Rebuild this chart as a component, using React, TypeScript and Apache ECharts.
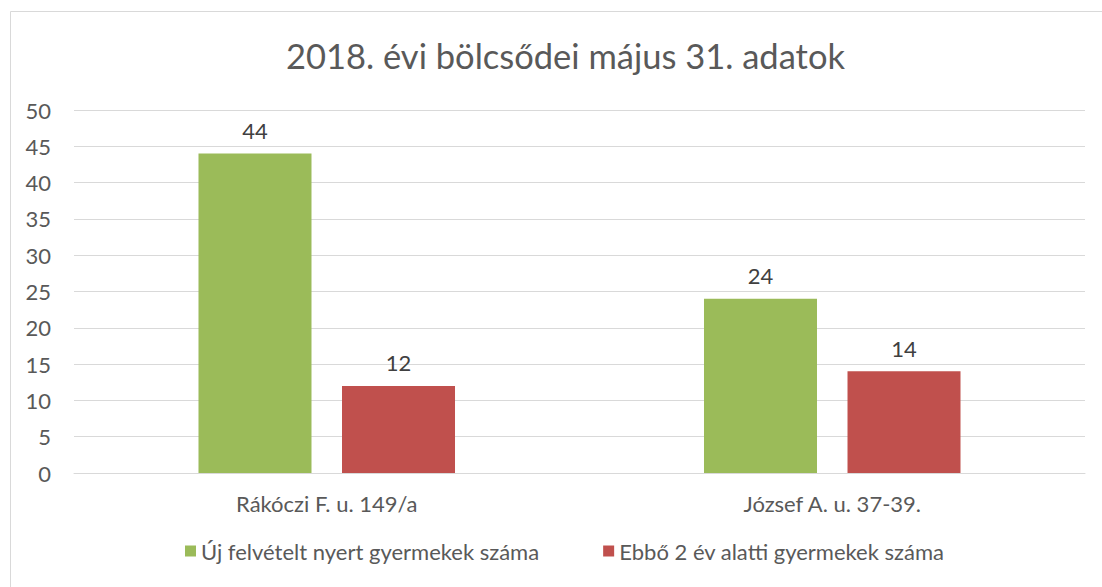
import React, { useEffect, useRef } from "react";
import * as echarts from "echarts";

const categories = ["Rákóczi F. u. 149/a", "József A. u. 37-39."];
const seriesNames = ["Új felvételt nyert gyermekek száma", "Ebbő 2 év alatti gyermekek száma"];
const newAdmitted = [44, 24];
const underTwo = [12, 14];
const titleText = "2018. évi bölcsődei május 31. adatok";

const FONT = "Lato, 'Noto Sans', sans-serif";

export default function App() {
  const ref = useRef<HTMLDivElement>(null);
  useEffect(() => {
    if (!ref.current) return;
    const chart = echarts.init(ref.current, null, { renderer: "svg" });
    chart.setOption({
      animation: false,
      backgroundColor: "#ffffff",
      textStyle: { fontFamily: FONT },
      graphic: [
        {
          type: "rect",
          shape: { x: 10.5, y: 11.5, width: 1100, height: 600 },
          style: { fill: "none", stroke: "#d9d9d9", lineWidth: 1 },
          silent: true,
        },
      ],
      title: {
        text: titleText,
        left: 281,
        top: 33,
        textStyle: { fontFamily: FONT, fontSize: 34.5, fontWeight: "normal", color: "#595959" },
      },
      legend: {
        bottom: 20,
        left: 180,
        itemWidth: 11,
        itemHeight: 11,
        itemGap: 64,
        icon: "rect",
        textStyle: { fontFamily: FONT, fontSize: 22, color: "#595959" },
      },
      grid: { left: 74, right: 17, top: 110, bottom: 114, containLabel: false },
      xAxis: {
        type: "category",
        data: categories,
        axisLine: { show: true, lineStyle: { color: "#d9d9d9" } },
        axisTick: { show: false },
        axisLabel: { fontFamily: FONT, fontSize: 22, color: "#595959", margin: 19 },
      },
      yAxis: {
        type: "value",
        min: 0,
        max: 50,
        interval: 5,
        axisLine: { show: false },
        axisTick: { show: false },
        splitLine: { lineStyle: { color: "#d9d9d9", width: 1 } },
        axisLabel: { fontFamily: FONT, fontSize: 22, color: "#595959", margin: 23 },
      },
      series: [
        {
          name: seriesNames[0],
          type: "bar",
          data: newAdmitted,
          barWidth: 113,
          barGap: "27%",
          itemStyle: { color: "#9bbb59" },
          label: { show: true, position: "top", distance: 12, fontFamily: FONT, fontSize: 22, color: "#404040" },
        },
        {
          name: seriesNames[1],
          type: "bar",
          data: underTwo,
          barWidth: 113,
          barGap: "27%",
          itemStyle: { color: "#c0504d" },
          label: { show: true, position: "top", distance: 12, fontFamily: FONT, fontSize: 22, color: "#404040" },
        },
      ],
    });
    return () => chart.dispose();
  }, []);
  return (
    <div
      ref={ref}
      style={{ position: "fixed", left: 0, top: 0, width: 1102, height: 587 }}
    />
  );
}
